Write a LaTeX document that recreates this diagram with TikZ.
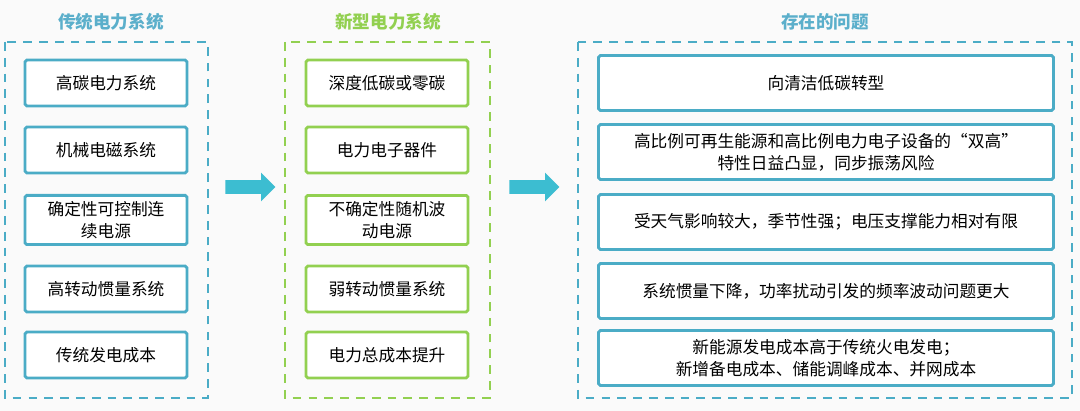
\documentclass[tikz,border=0pt]{standalone}
\usepackage{fontspec}
\setmainfont{Noto Sans CJK SC}
\usetikzlibrary{shapes.arrows,positioning,fit}
\definecolor{oldblue}{HTML}{4BACC6}
\definecolor{newgreen}{HTML}{92D050}
\definecolor{titleblue}{HTML}{5BAFCB}
\begin{document}
\begin{tikzpicture}[
    x=0.02cm, y=-0.02cm,
    font=\fontsize{9.5}{12.5}\selectfont,
    item/.style={rectangle, draw, line width=1.6pt, fill=white, align=center, minimum width=3.24cm, minimum height=0.92cm, rounded corners=1pt},
    olditem/.style={item, draw=oldblue},
    newitem/.style={item, draw=newgreen},
    issue/.style={item, draw=oldblue, minimum width=9.1cm, minimum height=1.1cm},
    group/.style={rectangle, dashed, line width=1.2pt, dash pattern=on 5pt off 4pt},
    heading/.style={font=\fontsize{10}{12}\selectfont\bfseries},
    bigarrow/.style={single arrow, draw=none, fill=oldblue!80!cyan, minimum height=1cm, inner sep=0.13cm, single arrow head extend=0.15cm}
]
    % background
    \fill[gray!4] (0,0) rectangle (1080,411);

    % --- group frames ---
    \draw[group, draw=oldblue] (5,42) rectangle (208,398);
    \draw[group, draw=newgreen] (285,42) rectangle (490,398);
    \draw[group, draw=oldblue] (578,42) rectangle (1072,398);

    \node[heading, text=titleblue] (oldtitle) at (111,22) {传统电力系统};
    \node[heading, text=newgreen] (newtitle) at (388,22) {新型电力系统};
    \node[heading, text=titleblue] (issuetitle) at (825,22) {存在的问题};

    % --- traditional system ---
    \node[olditem] (old1) at (106,83) {高碳电力系统};
    \node[olditem] (old2) at (106,150) {机械电磁系统};
    \node[olditem] (old3) at (106,220) {确定性可控制连\\续电源};
    \node[olditem] (old4) at (106,289) {高转动惯量系统};
    \node[olditem] (old5) at (106,355) {传统发电成本};

    % --- new system ---
    \node[newitem] (new1) at (387,83) {深度低碳或零碳};
    \node[newitem] (new2) at (387,150) {电力电子器件};
    \node[newitem] (new3) at (387,220) {不确定性随机波\\动电源};
    \node[newitem] (new4) at (387,289) {弱转动惯量系统};
    \node[newitem] (new5) at (387,355) {电力总成本提升};

    % --- issues ---
    \node[issue] (iss1) at (826,83) {向清洁低碳转型};
    \node[issue] (iss2) at (826,152) {高比例可再生能源和高比例电力电子设备的“双高”\\特性日益凸显，同步振荡风险};
    \node[issue] (iss3) at (826,222) {受天气影响较大，季节性强；电压支撑能力相对有限};
    \node[issue] (iss4) at (826,291) {系统惯量下降，功率扰动引发的频率波动问题更大};
    \node[issue] (iss5) at (826,358) {新能源发电成本高于传统火电发电；\\新增备电成本、储能调峰成本、并网成本};

    % --- arrows ---
    \node[bigarrow] (arr1) at (247,187) {};
    \node[bigarrow] (arr2) at (531,187) {};
\end{tikzpicture}
\end{document}
